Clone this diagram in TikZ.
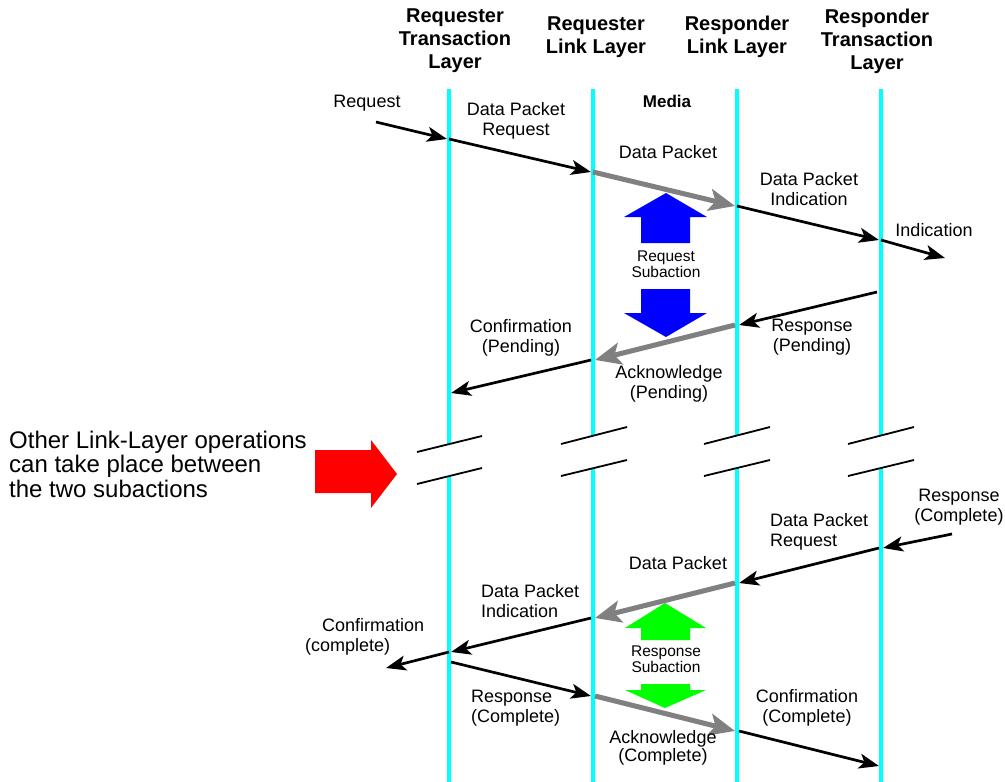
\documentclass[tikz,border=0pt]{standalone}
\usepackage{fontspec}
\setmainfont{Liberation Sans}
\usetikzlibrary{arrows.meta}
\definecolor{lifecyan}{RGB}{0,255,255}
\definecolor{mediagray}{RGB}{128,128,128}
\begin{document}
\begin{tikzpicture}[x=1pt,y=-1pt,
  lbl/.style={font=\fontsize{18}{20.5}\selectfont, align=center, inner sep=0pt},
  lbll/.style={font=\fontsize{18}{20.5}\selectfont, align=left, anchor=west, inner sep=0pt},
  small/.style={font=\fontsize{15.5}{15.5}\selectfont, align=center, inner sep=0pt},
  hdr/.style={font=\bfseries\fontsize{20}{23}\selectfont, align=center, inner sep=0pt},
  life/.style={draw=lifecyan, line width=4pt},
  msg/.style={draw=black, line width=2.7pt, -{Stealth[length=20pt,width=15pt,inset=5pt]}},
  media/.style={draw=mediagray, line width=5pt, -{Stealth[length=26pt,width=22pt,inset=6pt]}},
  brk/.style={draw=black, line width=1.8pt}
]
\useasboundingbox (0,0) rectangle (1005,782);

% ---- lifelines, broken where other operations may happen ----
\coordinate (A0) at (449,89);  \coordinate (A1) at (449,444);
\coordinate (A2) at (449,476); \coordinate (A3) at (449,782);
\coordinate (B0) at (593,89);  \coordinate (B1) at (593,436);
\coordinate (B2) at (593,468); \coordinate (B3) at (593,782);
\coordinate (C0) at (737,89);  \coordinate (C1) at (737,436);
\coordinate (C2) at (737,468); \coordinate (C3) at (737,782);
\coordinate (D0) at (881,89);  \coordinate (D1) at (881,436);
\coordinate (D2) at (881,468); \coordinate (D3) at (881,782);
\foreach \l in {A,B,C,D}{
  \draw[life] (\l0) -- (\l1);
  \draw[life] (\l2) -- (\l3);
}

% break marks
\coordinate (sa1) at (417,452); \coordinate (sa2) at (482,436);
\coordinate (sa3) at (417,484); \coordinate (sa4) at (482,468);
\draw[brk] (sa1) -- (sa2);
\draw[brk] (sa3) -- (sa4);
\foreach \x in {561,704,848}{
  \draw[brk] (\x,444) -- (\x+66,427);
  \draw[brk] (\x,476) -- (\x+66,460);
}

% ---- headers ----
\node[hdr] (h1) at (455,41) {Requester\\Transaction\\Layer};
\node[hdr] (h2) at (596,37) {Requester\\Link Layer};
\node[hdr] (h3) at (737,37) {Responder\\Link Layer};
\node[hdr] (h4) at (877,41) {Responder\\Transaction\\Layer};
\node[font=\bfseries\fontsize{17}{20}\selectfont, inner sep=0pt] (media) at (667,101) {Media};

% ---- request subaction ----
\coordinate (q0) at (376,122);
\coordinate (q1) at (449,139);
\coordinate (q2) at (593,172);
\coordinate (q3) at (737,206);
\coordinate (q4) at (881,240);
\coordinate (q5) at (945,258);
\draw[msg] (q0) -- ([xshift=-2pt]q1);
\draw[msg] (q1) -- ([xshift=-2pt]q2);
\draw[media] (q2) -- ([xshift=-2pt]q3);
\draw[msg] (q3) -- ([xshift=-2pt]q4);
\draw[msg] (q4) -- (q5);

\node[lbl] (lq0) at (367,103) {Request};
\node[lbl] (lq1) at (516,121) {Data Packet\\Request};
\node[lbl] (lq2) at (668,152) {Data Packet};
\node[lbl] (lq3) at (809,189) {Data Packet\\Indication};
\node[lbl] (lq4) at (934,230) {Indication};

% pending response
\coordinate (p0) at (877,292);
\coordinate (p1) at (737,325);
\coordinate (p2) at (593,360);
\coordinate (p3) at (449,393);
\draw[msg] (p0) -- ([xshift=2pt]p1);
\draw[media] ([xshift=-2pt]p1) -- ([xshift=2pt]p2);
\draw[msg] ([xshift=-2pt]p2) -- ([xshift=2pt]p3);

\node[lbl] (lp1) at (812,337) {Response\\(Pending)};
\node[lbl] (lp2) at (669,384) {Acknowledge\\(Pending)};
\node[lbl] (lp3) at (521,338) {Confirmation\\(Pending)};

% blue double arrow
\fill[blue] (666,193) -- (707,217) -- (690,217) -- (690,243) -- (641,243)
  -- (641,217) -- (624,217) -- cycle;
\fill[blue] (641,289) -- (690,289) -- (690,313) -- (707,313) -- (666,337)
  -- (624,313) -- (641,313) -- cycle;
\node[small] (rqs) at (666,264) {Request\\Subaction};

% ---- note on the left ----
\node[font=\fontsize{24}{24.5}\selectfont, align=left, anchor=west, inner sep=0pt] (note)
  at (9,464) {Other Link-Layer operations\\can take place between\\the two subactions};
\fill[red] (315,450) -- (371,450) -- (371,440) -- (397,474) -- (371,508)
  -- (371,493) -- (315,493) -- cycle;

% ---- response subaction ----
\coordinate (c0) at (952,534);
\coordinate (c1) at (881,548);
\coordinate (c2) at (737,583);
\coordinate (c3) at (593,618);
\coordinate (c4) at (449,652);
\coordinate (c5) at (386,668);
\draw[msg] (c0) -- ([xshift=2pt]c1);
\draw[msg] ([xshift=-2pt]c1) -- ([xshift=2pt]c2);
\draw[media] ([xshift=-2pt]c2) -- ([xshift=2pt]c3);
\draw[msg] ([xshift=-2pt]c3) -- ([xshift=2pt]c4);
\draw[msg] (c4) -- (c5);

\node[lbl] (lc0) at (959,507) {Response\\(Complete)};
\node[lbll] (lc1) at (770,532) {Data Packet\\Request};
\node[lbl] (lc2) at (678,563) {Data Packet};
\node[lbll] (lc3) at (481,601) {Data Packet\\Indication};
\node[lbll] (lc4) at (305,637) {\hspace{17pt}Confirmation\\(complete)};

\coordinate (k0) at (449,662);
\coordinate (k1) at (593,696);
\coordinate (k2) at (737,731);
\coordinate (k3) at (881,766);
\draw[msg] ([xshift=2pt]k0) -- ([xshift=-2pt]k1);
\draw[media] ([xshift=2pt]k1) -- ([xshift=-2pt]k2);
\draw[msg] ([xshift=2pt]k2) -- ([xshift=-2pt]k3);

\node[lbll] (lk1) at (471,708) {Response\\(Complete)};
\node[lbl, font=\fontsize{18}{17.5}\selectfont] (lk2) at (663,748) {Acknowledge\\(Complete)};
\node[lbl] (lk3) at (807,708) {Confirmation\\(Complete)};

% green double arrow
\fill[green] (665,603) -- (706,628) -- (690,628) -- (690,640) -- (641,640)
  -- (641,628) -- (625,628) -- cycle;
\fill[green] (641,684) -- (690,684) -- (690,690) -- (706,690) -- (665,708)
  -- (625,690) -- (641,690) -- cycle;
\node[small] (rss) at (666,659) {Response\\Subaction};
\end{tikzpicture}
\end{document}
